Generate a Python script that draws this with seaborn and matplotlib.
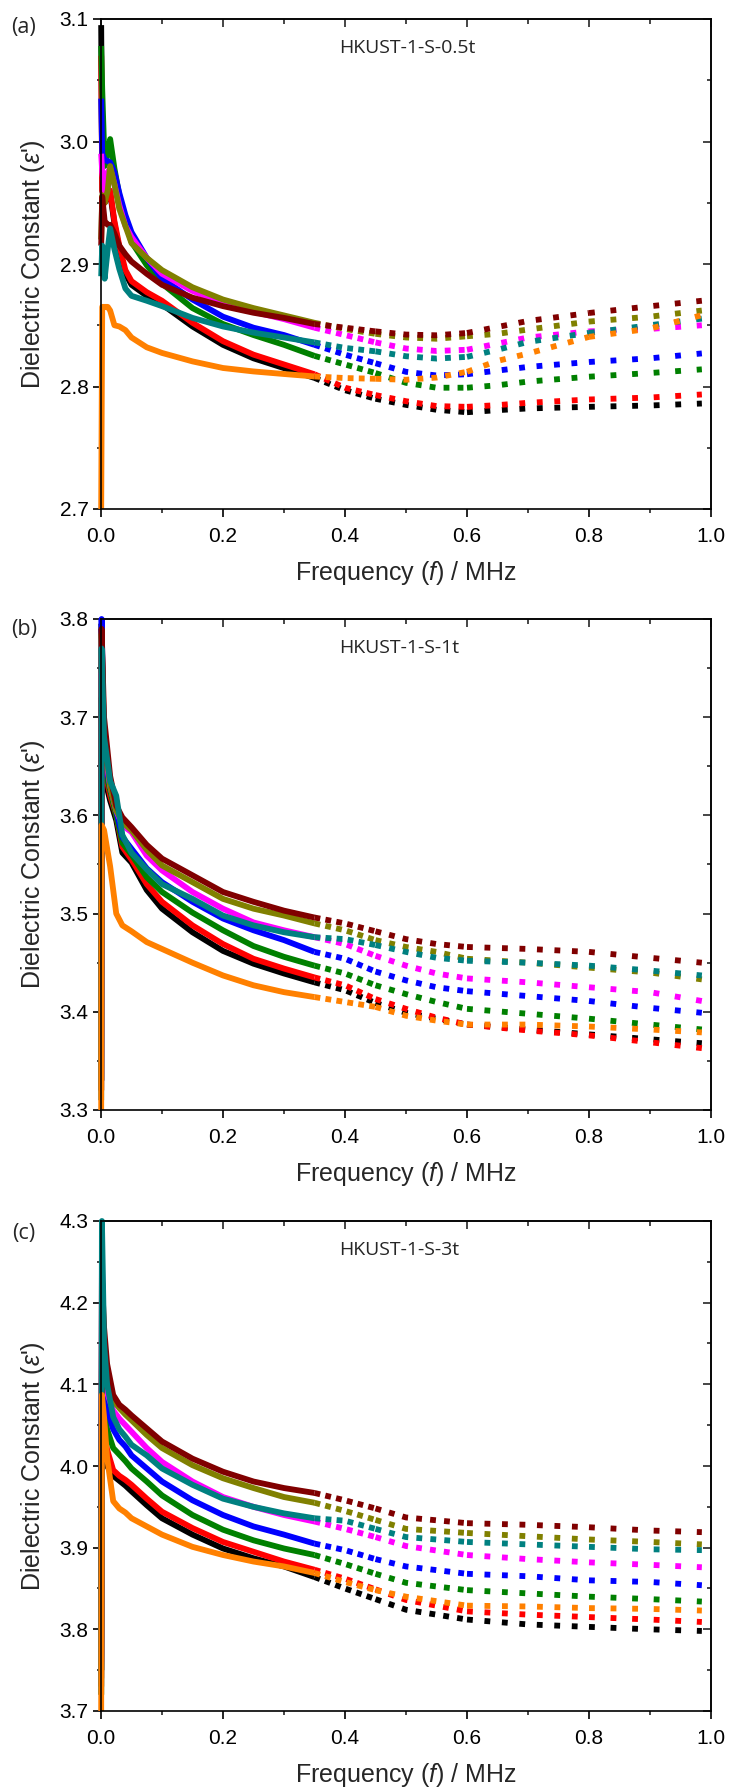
import matplotlib
matplotlib.use("Agg")
import matplotlib.pyplot as plt
from matplotlib.ticker import MultipleLocator, FormatStrFormatter
import seaborn as sns

# ---------------- data ----------------
series_names = ["black", "red", "green", "blue", "magenta", "olive", "maroon", "teal", "orange"]
series_colors = ["#000000", "#FF0000", "#008000", "#0000FF", "#FF00FF",
                 "#808000", "#800000", "#008080", "#FF8000"]

# Panel (a) HKUST-1-S-0.5t
freq_a = [0.0003, 0.002, 0.006, 0.011, 0.015, 0.022, 0.03, 0.04, 0.05, 0.075, 0.1, 0.15,
          0.2, 0.25, 0.3, 0.35, 0.4, 0.45, 0.5, 0.55, 0.6, 0.65, 0.7, 0.8, 0.9, 0.985]
a_black = [3.095, 2.96, 2.95, 2.955, 2.958, 2.933, 2.912, 2.892, 2.883, 2.874, 2.867, 2.849,
           2.834, 2.823, 2.815, 2.807, 2.797, 2.790, 2.785, 2.781, 2.779, 2.7807, 2.7821, 2.7834, 2.7845, 2.7861]
a_red = [3.07, 2.96, 2.95, 2.955, 2.96, 2.935, 2.915, 2.895, 2.886, 2.877, 2.870, 2.852,
         2.837, 2.826, 2.818, 2.810, 2.799, 2.793, 2.788, 2.784, 2.7834, 2.7848, 2.7867, 2.7894, 2.791, 2.7935]
a_green = [3.078, 3.042, 2.98, 2.99, 3.002, 2.978, 2.956, 2.934, 2.918, 2.899, 2.884, 2.864,
           2.851, 2.842, 2.834, 2.825, 2.818, 2.811, 2.803, 2.799, 2.799, 2.801, 2.804, 2.808, 2.811, 2.814]
a_blue = [3.035, 2.99, 2.985, 2.984, 2.983, 2.975, 2.958, 2.94, 2.926, 2.905, 2.888, 2.871,
          2.857, 2.848, 2.842, 2.834, 2.826, 2.819, 2.812, 2.809, 2.810, 2.813, 2.816, 2.820, 2.823, 2.827]
a_magenta = [2.99, 2.975, 2.96, 2.975, 2.978, 2.965, 2.948, 2.931, 2.922, 2.905, 2.892, 2.878,
             2.868, 2.861, 2.855, 2.848, 2.842, 2.836, 2.831, 2.829, 2.830, 2.835, 2.840, 2.845, 2.847, 2.850]
a_olive = [2.92, 2.956, 2.95, 2.96, 2.98, 2.965, 2.945, 2.931, 2.917, 2.905, 2.895, 2.881,
           2.871, 2.864, 2.858, 2.852, 2.847, 2.843, 2.840, 2.839, 2.841, 2.843, 2.8465, 2.853, 2.857, 2.862]
a_maroon = [2.915, 2.955, 2.935, 2.932, 2.932, 2.925, 2.915, 2.908, 2.902, 2.892, 2.883, 2.8725,
            2.8656, 2.8602, 2.856, 2.851, 2.848, 2.845, 2.8424, 2.8418, 2.8437, 2.8486, 2.8535, 2.860, 2.8655, 2.870]
a_teal = [2.89, 2.915, 2.888, 2.912, 2.929, 2.912, 2.896, 2.88, 2.874, 2.870, 2.8656, 2.856,
          2.849, 2.844, 2.840, 2.836, 2.8315, 2.8287, 2.8247, 2.8228, 2.8242, 2.830, 2.8364, 2.8438, 2.850, 2.8554]
a_orange = [2.70, 2.865, 2.865, 2.865, 2.862, 2.850, 2.849, 2.846, 2.840, 2.832, 2.8274, 2.8205,
            2.8151, 2.8123, 2.8102, 2.8082, 2.8069, 2.8063, 2.8055, 2.8073, 2.812, 2.8209, 2.8269, 2.8405, 2.8473, 2.8582]

# Panel (b) HKUST-1-S-1t
freq_b = [0.0003, 0.001, 0.005, 0.015, 0.025, 0.035, 0.05, 0.075, 0.1, 0.15, 0.2, 0.25,
          0.3, 0.35, 0.4, 0.45, 0.5, 0.55, 0.6, 0.7, 0.8, 0.9, 0.985]
b_black = [3.33, 3.795, 3.64, 3.615, 3.595, 3.562, 3.552, 3.524, 3.505, 3.481, 3.462, 3.449,
           3.439, 3.430, 3.422, 3.409, 3.399, 3.393, 3.387, 3.382, 3.377, 3.372, 3.368]
b_red = [3.32, 3.70, 3.65, 3.62, 3.60, 3.568, 3.555, 3.530, 3.512, 3.488, 3.469, 3.454,
         3.444, 3.435, 3.427, 3.413, 3.403, 3.394, 3.387, 3.381, 3.376, 3.369, 3.363]
b_green = [3.33, 3.72, 3.65, 3.625, 3.60, 3.572, 3.560, 3.537, 3.522, 3.501, 3.483, 3.467,
           3.456, 3.447, 3.439, 3.427, 3.418, 3.410, 3.403, 3.398, 3.393, 3.387, 3.382]
b_blue = [3.33, 3.80, 3.66, 3.63, 3.605, 3.578, 3.566, 3.546, 3.532, 3.512, 3.495, 3.483,
          3.473, 3.461, 3.454, 3.441, 3.432, 3.425, 3.421, 3.416, 3.411, 3.404, 3.399]
b_magenta = [3.33, 3.745, 3.67, 3.63, 3.605, 3.59, 3.583, 3.559, 3.544, 3.522, 3.505, 3.491,
             3.483, 3.476, 3.469, 3.457, 3.447, 3.439, 3.434, 3.430, 3.425, 3.420, 3.411]
b_olive = [3.33, 3.785, 3.68, 3.63, 3.605, 3.593, 3.585, 3.565, 3.549, 3.532, 3.515, 3.505,
           3.498, 3.490, 3.483, 3.473, 3.466, 3.461, 3.454, 3.450, 3.445, 3.440, 3.433]
b_maroon = [3.32, 3.79, 3.70, 3.64, 3.61, 3.598, 3.588, 3.570, 3.556, 3.539, 3.522, 3.512,
            3.503, 3.496, 3.490, 3.482, 3.474, 3.469, 3.466, 3.464, 3.461, 3.455, 3.450]
b_teal = [3.31, 3.77, 3.68, 3.635, 3.62, 3.58, 3.562, 3.545, 3.530, 3.515, 3.498, 3.488,
          3.481, 3.476, 3.474, 3.468, 3.461, 3.455, 3.452, 3.450, 3.447, 3.442, 3.437]
b_orange = [3.30, 3.59, 3.585, 3.548, 3.50, 3.488, 3.482, 3.471, 3.464, 3.450, 3.437, 3.427,
            3.420, 3.415, 3.410, 3.405, 3.396, 3.391, 3.387, 3.387, 3.385, 3.382, 3.379]

# Panel (c) HKUST-1-S-3t
freq_c = [0.0003, 0.0015, 0.005, 0.01, 0.02, 0.03, 0.04, 0.05, 0.075, 0.1, 0.15, 0.2,
          0.25, 0.3, 0.35, 0.4, 0.45, 0.5, 0.6, 0.7, 0.8, 0.9, 0.985]
c_black = [3.75, 4.10, 4.02, 4.00, 3.988, 3.982, 3.976, 3.969, 3.952, 3.936, 3.916, 3.899,
           3.887, 3.877, 3.864, 3.850, 3.837, 3.824, 3.812, 3.806, 3.803, 3.800, 3.798]
c_red = [3.74, 4.12, 4.04, 4.02, 3.995, 3.988, 3.983, 3.977, 3.960, 3.944, 3.924, 3.907,
         3.895, 3.883, 3.873, 3.862, 3.849, 3.836, 3.822, 3.818, 3.815, 3.812, 3.809]
c_green = [3.75, 4.15, 4.07, 4.045, 4.022, 4.014, 4.006, 3.997, 3.981, 3.964, 3.940, 3.922,
           3.909, 3.899, 3.891, 3.880, 3.868, 3.857, 3.848, 3.844, 3.840, 3.837, 3.834]
c_blue = [3.75, 4.20, 4.10, 4.07, 4.045, 4.032, 4.024, 4.013, 3.997, 3.981, 3.958, 3.940,
          3.926, 3.916, 3.905, 3.897, 3.886, 3.877, 3.868, 3.865, 3.860, 3.858, 3.854]
c_magenta = [3.76, 4.25, 4.12, 4.09, 4.068, 4.058, 4.050, 4.042, 4.022, 4.005, 3.981, 3.962,
             3.950, 3.940, 3.932, 3.923, 3.913, 3.902, 3.891, 3.886, 3.882, 3.879, 3.876]
c_olive = [3.72, 4.235, 4.15, 4.11, 4.08, 4.071, 4.063, 4.056, 4.038, 4.022, 4.001, 3.985,
           3.973, 3.962, 3.955, 3.945, 3.934, 3.923, 3.918, 3.914, 3.910, 3.907, 3.904]
c_maroon = [3.73, 4.23, 4.17, 4.125, 4.087, 4.075, 4.069, 4.062, 4.046, 4.030, 4.009, 3.993,
            3.981, 3.973, 3.967, 3.958, 3.948, 3.937, 3.930, 3.928, 3.925, 3.921, 3.919]
c_teal = [3.72, 4.30, 4.15, 4.10, 4.06, 4.045, 4.036, 4.026, 4.013, 3.997, 3.977, 3.960,
          3.950, 3.942, 3.936, 3.933, 3.923, 3.913, 3.907, 3.904, 3.901, 3.898, 3.897]
c_orange = [3.70, 4.087, 4.06, 4.01, 3.957, 3.948, 3.943, 3.936, 3.926, 3.916, 3.901, 3.891,
            3.883, 3.877, 3.869, 3.858, 3.848, 3.840, 3.829, 3.828, 3.826, 3.825, 3.823]

panel_letters = ["(a)", "(b)", "(c)"]
panel_titles = ["HKUST-1-S-0.5t", "HKUST-1-S-1t", "HKUST-1-S-3t"]
y_limits = [(2.7, 3.1), (3.3, 3.8), (3.7, 4.3)]

panels = [
    (freq_a, [a_black, a_red, a_green, a_blue, a_magenta, a_olive, a_maroon, a_teal, a_orange]),
    (freq_b, [b_black, b_red, b_green, b_blue, b_magenta, b_olive, b_maroon, b_teal, b_orange]),
    (freq_c, [c_black, c_red, c_green, c_blue, c_magenta, c_olive, c_maroon, c_teal, c_orange]),
]

# ---------------- style ----------------
sns.set_theme(style="ticks")
plt.rcParams["font.family"] = ["Liberation Sans", "DejaVu Sans"]
plt.rcParams["mathtext.fontset"] = "custom"
plt.rcParams["mathtext.rm"] = "Liberation Sans"
plt.rcParams["mathtext.it"] = "Liberation Sans:italic"
plt.rcParams["axes.linewidth"] = 1.2
plt.rcParams["lines.scale_dashes"] = True

W, H = 730, 1791
fig = plt.figure(figsize=(W / 100, H / 100), dpi=100)

axes_px = [(101, 19, 711, 509), (101, 619, 711, 1110), (101, 1221, 711, 1711)]
letter_y = [28, 630, 1233]

LW = 4.2
# frequency bands: solid where the measured points overlap, then
# increasingly spaced squares
bands = [(0.0, 0.35, "-"), (0.35, 0.45, (0, (1, 0.9))), (0.45, 0.6, (0, (1, 1.4))),
         (0.6, 0.8, (0, (1, 2.0))), (0.8, 1.0, (0, (1, 2.7)))]

for p, ((freq, ys), (l, t, r, b)) in enumerate(zip(panels, axes_px)):
    ax = fig.add_axes([l / W, 1 - b / H, (r - l) / W, (b - t) / H])
    for yv, col in zip(ys, series_colors):
        for lo, hi, ls in bands:
            idx = [i for i, f in enumerate(freq) if lo <= f <= hi]
            fx = [freq[i] for i in idx]
            fy = [yv[i] for i in idx]
            kw = dict(dash_capstyle="butt") if ls != "-" else dict(solid_capstyle="butt",
                                                                   solid_joinstyle="round")
            sns.lineplot(x=fx, y=fy, ax=ax, color=col, linewidth=LW, linestyle=ls,
                         estimator=None, sort=False, legend=False, clip_on=False, **kw)

    ax.set_xlim(0, 1)
    ax.set_ylim(*y_limits[p])
    ax.xaxis.set_major_locator(MultipleLocator(0.2))
    ax.xaxis.set_minor_locator(MultipleLocator(0.1))
    ax.yaxis.set_major_locator(MultipleLocator(0.1))
    ax.yaxis.set_minor_locator(MultipleLocator(0.05))
    ax.xaxis.set_major_formatter(FormatStrFormatter("%.1f"))
    ax.yaxis.set_major_formatter(FormatStrFormatter("%.1f"))
    ax.tick_params(axis="both", which="major", direction="out", length=5.5, width=1.2,
                   labelsize=15, colors="black")
    ax.tick_params(axis="both", which="minor", direction="out", length=3, width=1.2)
    ax.tick_params(axis="x", which="major", pad=7.5)
    ax.tick_params(axis="y", which="major", pad=3.5)
    for s in ax.spines.values():
        s.set_visible(True)
        s.set_color("black")
        s.set_linewidth(1.2)

    secx = ax.secondary_xaxis("top")
    secx.xaxis.set_major_locator(MultipleLocator(0.2))
    secx.xaxis.set_minor_locator(MultipleLocator(0.1))
    secx.tick_params(axis="x", which="both", direction="in", labeltop=False, width=1.2)
    secx.tick_params(axis="x", which="major", length=5.5)
    secx.tick_params(axis="x", which="minor", length=3.5)
    secy = ax.secondary_yaxis("right")
    secy.yaxis.set_major_locator(MultipleLocator(0.1))
    secy.yaxis.set_minor_locator(MultipleLocator(0.05))
    secy.tick_params(axis="y", which="both", direction="in", labelright=False, width=1.2)
    secy.tick_params(axis="y", which="major", length=5.5)
    secy.tick_params(axis="y", which="minor", length=3)

    ax.set_xlabel(r"Frequency ($f$) / MHz", fontsize=18, labelpad=9)
    ax.set_ylabel(r"Dielectric Constant ($\varepsilon$')", fontsize=18, labelpad=9)
    ax.text(0.39, 0.941, panel_titles[p], transform=ax.transAxes, ha="left", va="center",
            fontsize=14, family=["Open Sans", "DejaVu Sans"])
    fig.text(24 / W, 1 - letter_y[p] / H, panel_letters[p], ha="center", va="center",
             fontsize=15.5, family=["Open Sans", "DejaVu Sans"])

fig.savefig("out.png", dpi=100)
